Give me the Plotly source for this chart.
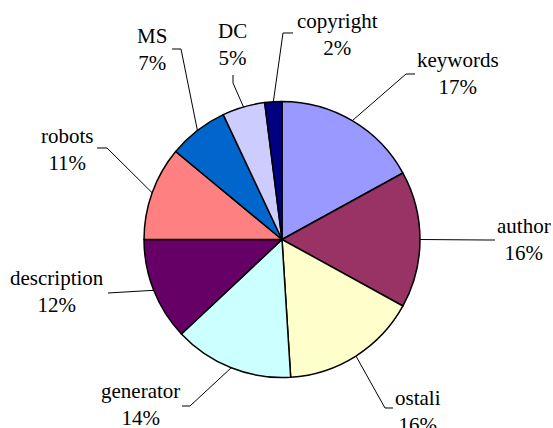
import math
import plotly.graph_objects as go

# ---- data ----
labels = ["keywords", "author", "ostali", "generator", "description",
          "robots", "MS", "DC", "copyright"]
values = [17, 16, 16, 14, 12, 11, 7, 5, 2]
colors = ["#9999FF", "#993366", "#FFFFCC", "#CCFFFF", "#660066",
          "#FF8080", "#0066CC", "#CCCCFF", "#000080"]

# ---- layout constants (window pixels) ----
W, H = 553, 428
CX, CY, R = 282, 239.5, 138
# label centres and leader-line elbows (layout positions, window pixels)
label_pos = [(458, 74), (524, 240), (418, 411), (140, 404), (57, 291),
             (67, 149), (152, 49), (232, 44), (337, 35)]
elbows = [[(406, 74), (415, 74)], [(487, 240), (495, 240)],
          [(385, 408), (393, 408)], [(190, 406), (182, 406)],
          [(108, 293)], [(107, 148), (97, 148)],
          [(181, 49), (172, 49)], [(233, 83), (233, 75)],
          [(283, 33), (293, 33)]]

def px(x):
    return x / W

def py(y):
    return 1 - y / H

fig = go.Figure(go.Pie(
    labels=labels, values=values, sort=False, direction="clockwise",
    rotation=0, textinfo="none", hoverinfo="label+percent",
    marker=dict(colors=colors, line=dict(color="black", width=1.5)),
    domain=dict(x=[px(CX - R), px(CX + R)], y=[py(CY + R), py(CY - R)]),
    showlegend=False,
))

total = sum(values)
cum = 0
shapes = []
annotations = []
for i, (lab, v) in enumerate(zip(labels, values)):
    mid = (cum + v / 2) / total * 2 * math.pi
    cum += v
    sx = CX + R * math.sin(mid)
    sy = CY - R * math.cos(mid)
    pts = [(sx, sy)] + elbows[i]
    path = "M " + " L ".join(f"{px(x):.5f},{py(y):.5f}" for x, y in pts)
    shapes.append(dict(type="path", xref="paper", yref="paper", path=path,
                       line=dict(color="black", width=1)))
    lx, ly = label_pos[i]
    pct = round(v / total * 100)
    annotations.append(dict(
        x=px(lx), y=py(ly), xref="paper", yref="paper",
        xanchor="center", yanchor="middle", showarrow=False,
        text=f"{lab}<br>{pct}%", align="center",
        font=dict(family="Liberation Serif, Times New Roman, serif",
                  size=21, color="black")))

fig.update_layout(
    width=W, height=H, margin=dict(l=0, r=0, t=0, b=0),
    paper_bgcolor="white", plot_bgcolor="white",
    shapes=shapes, annotations=annotations,
)

fig.write_html(
    "out.html",
    config={"displayModeBar": False},
    post_script="document.body.style.margin='0';"
                "document.body.style.overflow='hidden';"
                "document.documentElement.style.overflow='hidden';",
)
